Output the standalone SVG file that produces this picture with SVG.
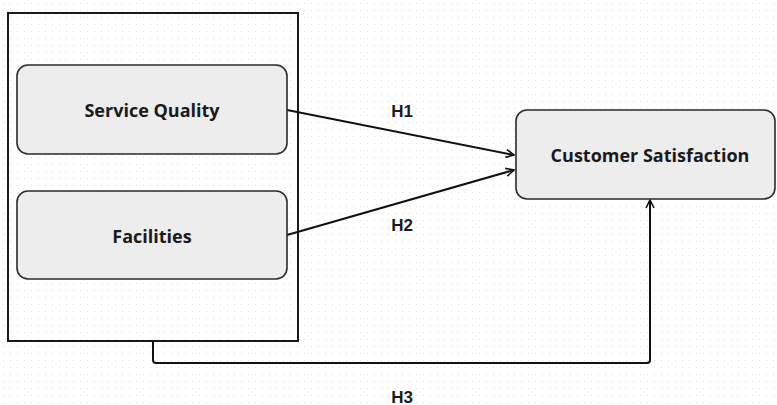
<svg xmlns="http://www.w3.org/2000/svg" width="777" height="405" viewBox="0 0 777 405">
<style>
.node{fill:#ededed;stroke:#2b2b2b;stroke-width:1.6}
.lbl{font-family:"Open Sans","Liberation Sans",sans-serif;font-weight:bold;font-size:18px;fill:#1a1a1a;text-anchor:middle;dominant-baseline:central}
.h{font-family:"Liberation Sans",Arial,sans-serif;font-weight:bold;font-size:17px;fill:#1a1a1a;text-anchor:middle;dominant-baseline:central}
.conn{fill:none;stroke:#111;stroke-width:2}
</style>
<defs>
<pattern id="dots" width="7" height="7" patternUnits="userSpaceOnUse">
<circle cx="3.5" cy="3.5" r="0.7" fill="#e4e4e4"/>
</pattern>
<marker id="arr" viewBox="0 0 10 10" refX="9" refY="5" markerWidth="10" markerHeight="10" markerUnits="userSpaceOnUse" orient="auto">
<path d="M1,1 L9,5 L1,9" fill="none" stroke="#111" stroke-width="1.6"/>
</marker>
</defs>
<rect width="777" height="405" fill="#ffffff"/>
<rect width="777" height="405" fill="url(#dots)"/>
<g id="group-box">
<rect x="8" y="13" width="290" height="328" fill="none" stroke="#1a1a1a" stroke-width="2"/>
</g>
<g id="connectors">
<line class="conn" x1="287" y1="110" x2="514" y2="155" marker-end="url(#arr)"/>
<line class="conn" x1="287" y1="235" x2="514" y2="170" marker-end="url(#arr)"/>
<path class="conn" d="M153,341 V360 Q153,363 156,363 H647 Q650,363 650,360 V200" marker-end="url(#arr)"/>
</g>
<g id="service-quality">
<rect class="node" x="17" y="65" width="270" height="89" rx="11"/>
<text class="lbl" x="152" y="110">Service Quality</text>
</g>
<g id="facilities">
<rect class="node" x="17" y="191" width="270" height="88" rx="11"/>
<text class="lbl" x="152" y="236">Facilities</text>
</g>
<g id="customer-satisfaction">
<rect class="node" x="516" y="110" width="259" height="89" rx="11"/>
<text class="lbl" x="650" y="155">Customer Satisfaction</text>
</g>
<g id="labels">
<text class="h" x="402" y="111">H1</text>
<text class="h" x="402" y="225">H2</text>
<text class="h" x="402" y="397">H3</text>
</g>
</svg>
